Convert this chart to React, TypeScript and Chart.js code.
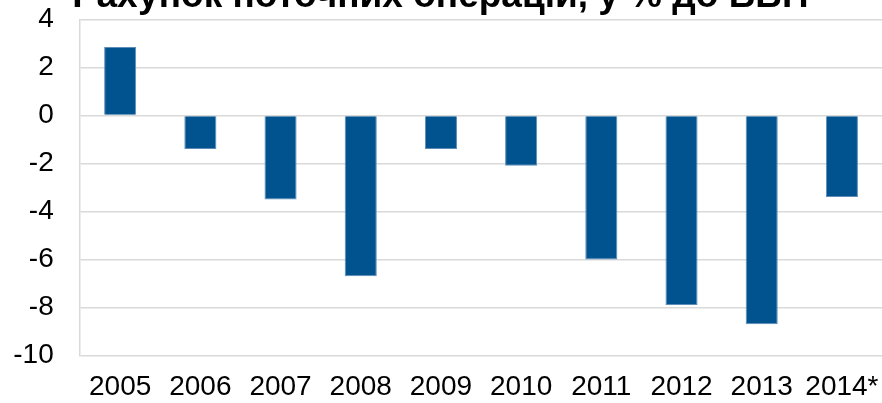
import React, { useEffect, useRef } from "react";
import { Chart, registerables } from "chart.js";

Chart.register(...registerables);

const titleText = "Рахунок поточних операцій, у % до ВВП";
const years = ["2005", "2006", "2007", "2008", "2009", "2010", "2011", "2012", "2013", "2014*"];
const currentAccount = [2.85, -1.4, -3.5, -6.7, -1.4, -2.1, -6.0, -7.9, -8.7, -3.4];
const yMin = -10;
const yMax = 4;
const yStep = 2;

export default function App() {
  const ref = useRef<HTMLCanvasElement | null>(null);

  useEffect(() => {
    if (!ref.current) return;
    const chart = new Chart(ref.current, {
      type: "bar",
      data: {
        labels: years,
        datasets: [
          {
            data: currentAccount,
            backgroundColor: "#01538f",
            borderColor: "#5d8cb8",
            borderWidth: 1,
            categoryPercentage: 0.8,
            barPercentage: 0.5,
          },
        ],
      },
      options: {
        animation: false,
        responsive: true,
        maintainAspectRatio: false,
        layout: { padding: { left: 0, right: 0, top: 0, bottom: 0 } },
        plugins: {
          legend: { display: false },
          tooltip: { enabled: false },
          title: {
            display: true,
            text: titleText,
            color: "#000",
            font: { family: "'Liberation Sans', Arial, sans-serif", size: 37, weight: "bold", lineHeight: 1.2 },
            padding: { top: 14.8, bottom: 0.3 },
          },
        },
        scales: {
          x: {
            grid: { display: false, drawTicks: false },
            border: { display: false },
            ticks: {
              color: "#000",
              padding: 15.5,
              maxRotation: 0,
              autoSkip: false,
              font: { family: "'Liberation Sans', Arial, sans-serif", size: 28 },
            },
          },
          y: {
            min: yMin,
            max: yMax,
            grid: { color: "#d9d9d9", lineWidth: 1.5, drawTicks: false },
            border: { display: true, color: "#d9d9d9", width: 1.5 },
            ticks: {
              stepSize: yStep,
              color: "#000",
              padding: 26.3,
              font: { family: "'Liberation Sans', Arial, sans-serif", size: 28 },
            },
          },
        },
      },
    });
    return () => chart.destroy();
  }, []);

  return (
    <div style={{ position: "fixed", top: 0, left: 0, width: 882, height: 403, overflow: "hidden", background: "#fff" }}>
      <div style={{ position: "absolute", top: -40, left: -13, width: 907, height: 460 }}>
        <canvas ref={ref} />
      </div>
    </div>
  );
}
